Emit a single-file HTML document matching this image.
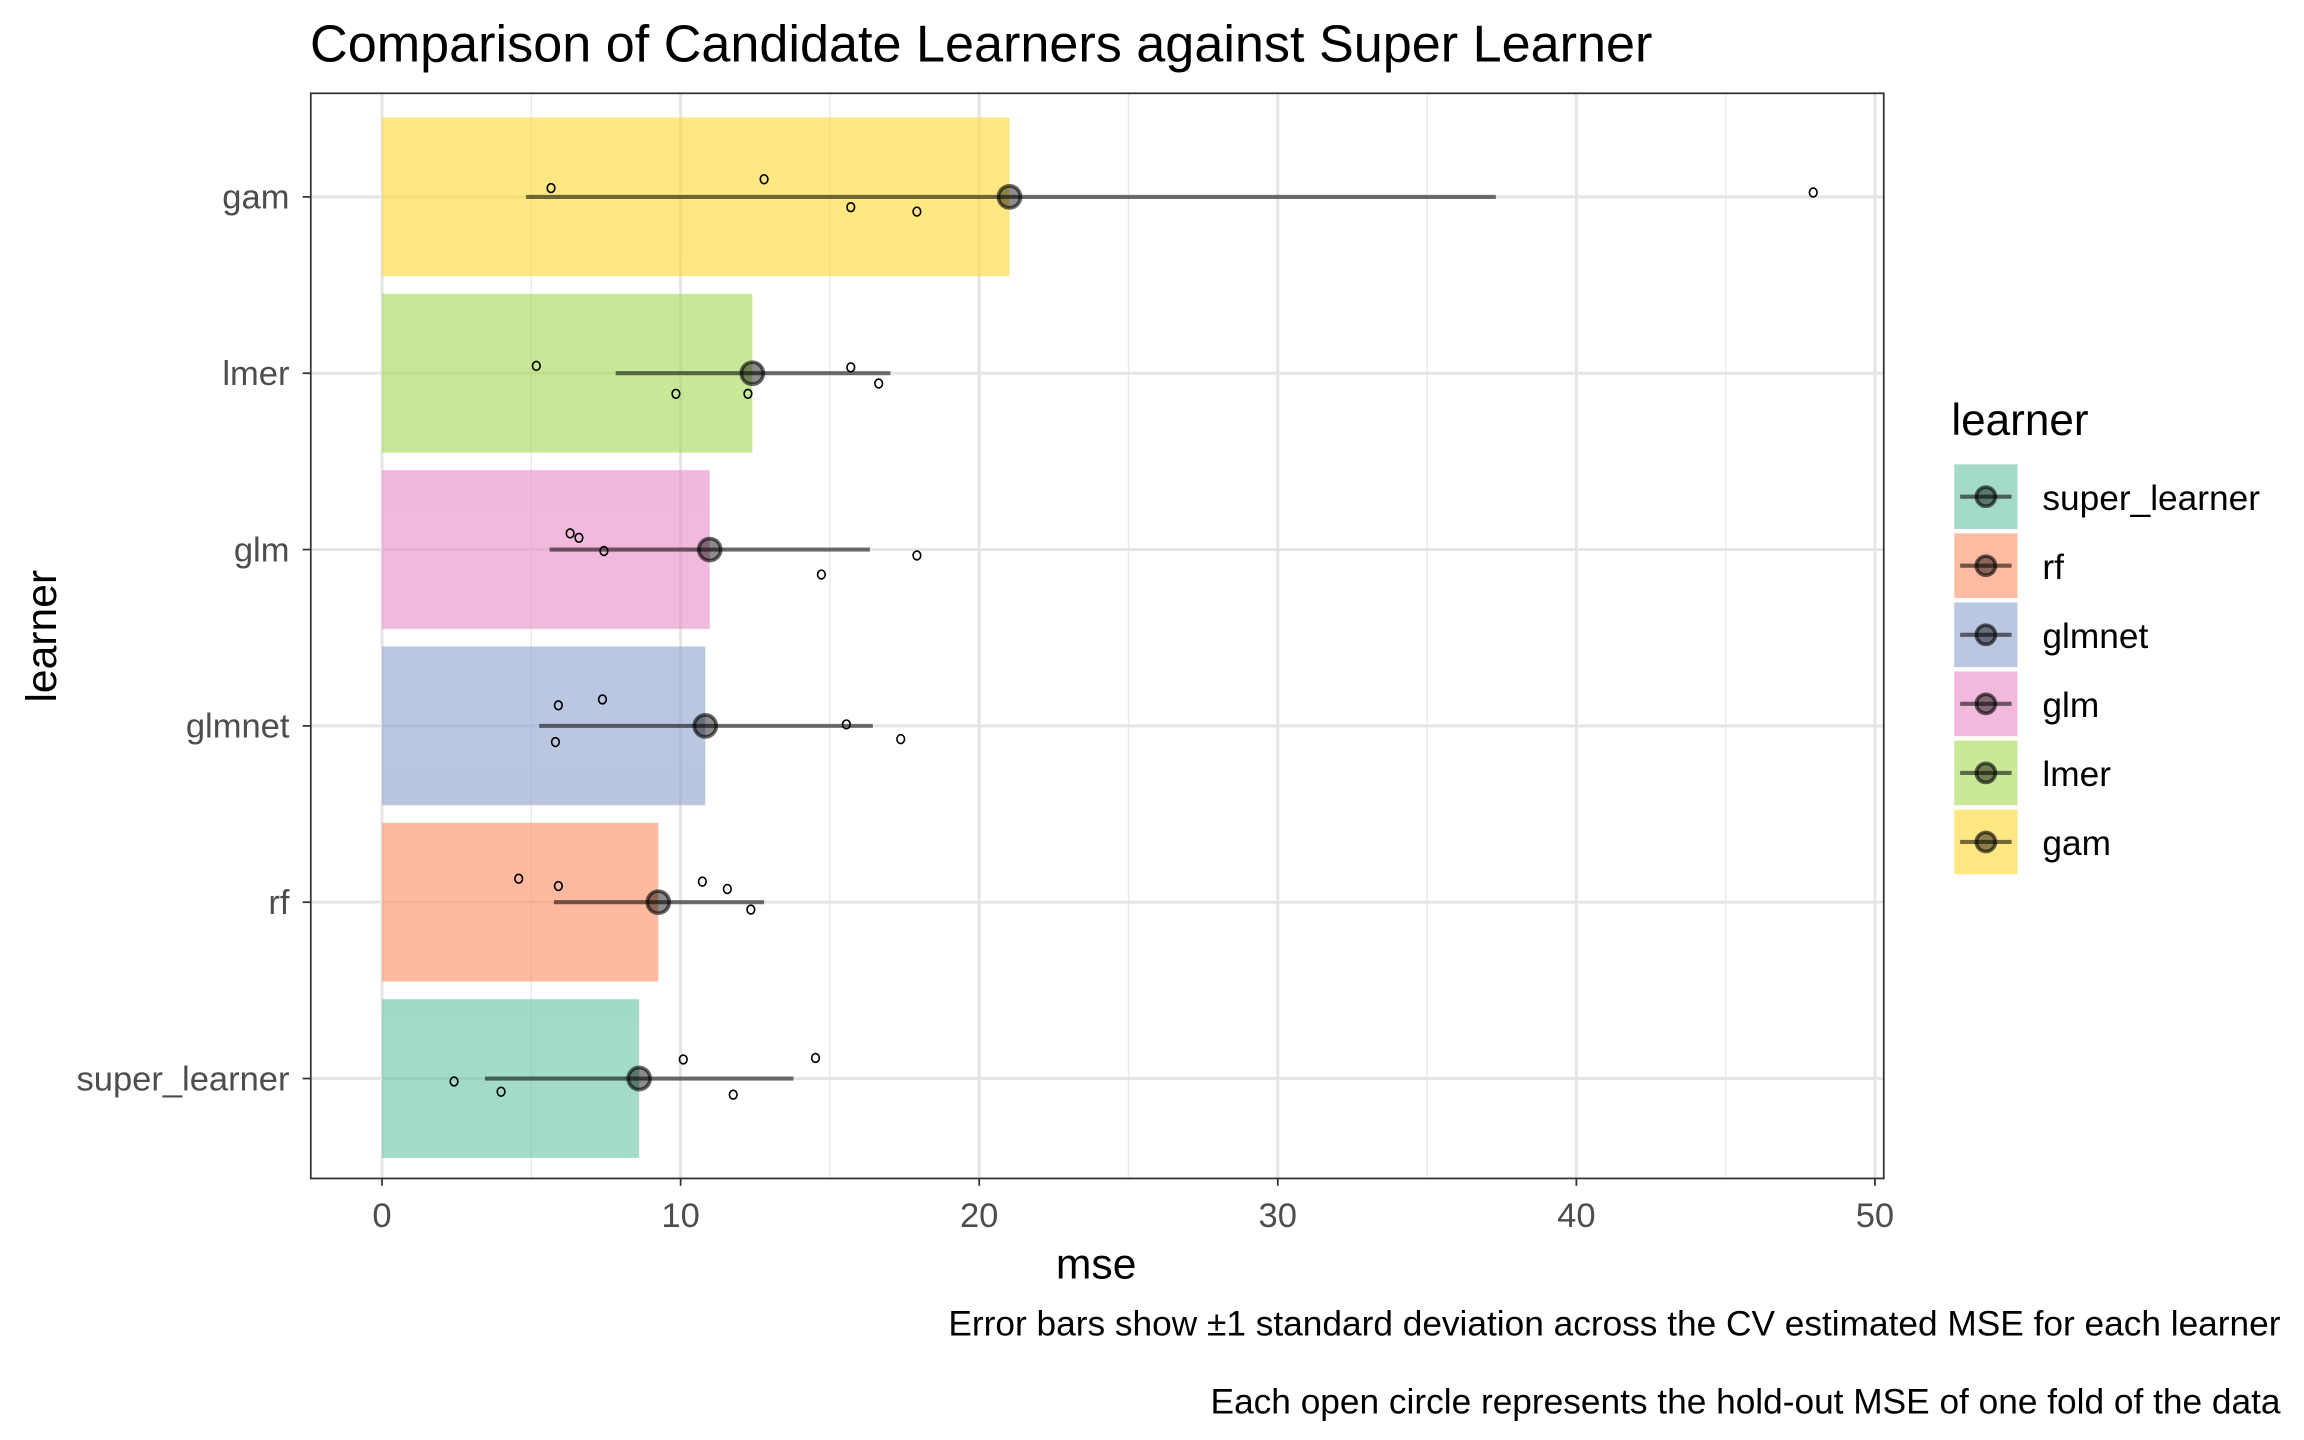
<!DOCTYPE html>
<html><head><style>html,body{margin:0;padding:0;background:#fff}svg{display:block}</style></head>
<body>
<svg width="2304" height="1440" viewBox="0 0 1568 980" xmlns="http://www.w3.org/2000/svg" font-family="Liberation Sans, sans-serif">
<rect width="1568" height="980" fill="#fff"/>
<text x="211" y="42" font-size="35.5" fill="#000">Comparison of Candidate Learners against Super Learner</text>
<g stroke="#ebebeb" stroke-width="1">
<line x1="361.6" y1="63" x2="361.6" y2="802"/><line x1="564.8" y1="63" x2="564.8" y2="802"/><line x1="768" y1="63" x2="768" y2="802"/><line x1="971.2" y1="63" x2="971.2" y2="802"/><line x1="1174.4" y1="63" x2="1174.4" y2="802"/>
</g>
<g stroke="#e5e5e5" stroke-width="2">
<line x1="260" y1="63" x2="260" y2="802"/><line x1="463.2" y1="63" x2="463.2" y2="802"/><line x1="666.4" y1="63" x2="666.4" y2="802"/><line x1="869.6" y1="63" x2="869.6" y2="802"/><line x1="1072.8" y1="63" x2="1072.8" y2="802"/><line x1="1276" y1="63" x2="1276" y2="802"/>
<line x1="211" y1="134" x2="1282" y2="134"/><line x1="211" y1="254" x2="1282" y2="254"/><line x1="211" y1="374" x2="1282" y2="374"/><line x1="211" y1="494" x2="1282" y2="494"/><line x1="211" y1="614" x2="1282" y2="614"/><line x1="211" y1="734" x2="1282" y2="734"/>
</g>
<g opacity="0.6">
<rect x="260" y="80" width="427" height="108" fill="#ffd92f"/>
<rect x="260" y="200" width="252" height="108" fill="#a6d854"/>
<rect x="260" y="320" width="223" height="108" fill="#e78ac3"/>
<rect x="260" y="440" width="220" height="108" fill="#8da0cb"/>
<rect x="260" y="560" width="188" height="108" fill="#fc8d62"/>
<rect x="260" y="680" width="175" height="108" fill="#66c2a5"/>
</g>
<g stroke="#000" stroke-opacity="0.55" stroke-width="2.8">
<line x1="358" y1="134" x2="1018" y2="134"/>
<line x1="419" y1="254" x2="606" y2="254"/>
<line x1="374" y1="374" x2="592" y2="374"/>
<line x1="367" y1="494" x2="594" y2="494"/>
<line x1="377" y1="614" x2="520" y2="614"/>
<line x1="330" y1="734" x2="540" y2="734"/>
</g>
<g fill="#000" fill-opacity="0.45" stroke="#000" stroke-opacity="0.6" stroke-width="2.5">
<circle cx="687" cy="134" r="7.5"/><circle cx="512" cy="254" r="7.5"/><circle cx="483" cy="374" r="7.5"/><circle cx="480" cy="494" r="7.5"/><circle cx="448" cy="614" r="7.5"/><circle cx="435" cy="734" r="7.5"/>
</g>
<g fill="none" stroke="#000" stroke-width="1.1">
<ellipse cx="375" cy="128" rx="2.6" ry="3"/><ellipse cx="520" cy="122" rx="2.6" ry="3"/><ellipse cx="579" cy="141" rx="2.6" ry="3"/><ellipse cx="624" cy="144" rx="2.6" ry="3"/><ellipse cx="1234" cy="131" rx="2.6" ry="3"/>
<ellipse cx="365" cy="249" rx="2.6" ry="3"/><ellipse cx="579" cy="250" rx="2.6" ry="3"/><ellipse cx="598" cy="261" rx="2.6" ry="3"/><ellipse cx="460" cy="268" rx="2.6" ry="3"/><ellipse cx="509" cy="268" rx="2.6" ry="3"/>
<ellipse cx="388" cy="363" rx="2.6" ry="3"/><ellipse cx="394" cy="366" rx="2.6" ry="3"/><ellipse cx="411" cy="375" rx="2.6" ry="3"/><ellipse cx="624" cy="378" rx="2.6" ry="3"/><ellipse cx="559" cy="391" rx="2.6" ry="3"/>
<ellipse cx="380" cy="480" rx="2.6" ry="3"/><ellipse cx="410" cy="476" rx="2.6" ry="3"/><ellipse cx="576" cy="493" rx="2.6" ry="3"/><ellipse cx="613" cy="503" rx="2.6" ry="3"/><ellipse cx="378" cy="505" rx="2.6" ry="3"/>
<ellipse cx="353" cy="598" rx="2.6" ry="3"/><ellipse cx="380" cy="603" rx="2.6" ry="3"/><ellipse cx="478" cy="600" rx="2.6" ry="3"/><ellipse cx="495" cy="605" rx="2.6" ry="3"/><ellipse cx="511" cy="619" rx="2.6" ry="3"/>
<ellipse cx="465" cy="721" rx="2.6" ry="3"/><ellipse cx="555" cy="720" rx="2.6" ry="3"/><ellipse cx="309" cy="736" rx="2.6" ry="3"/><ellipse cx="341" cy="743" rx="2.6" ry="3"/><ellipse cx="499" cy="745" rx="2.6" ry="3"/>
</g>
<rect x="211.5" y="63.5" width="1070.5" height="738.5" fill="none" stroke="#333" stroke-width="1.2"/>
<g stroke="#333" stroke-width="1.2">
<line x1="206" y1="134" x2="211" y2="134"/><line x1="206" y1="254" x2="211" y2="254"/><line x1="206" y1="374" x2="211" y2="374"/><line x1="206" y1="494" x2="211" y2="494"/><line x1="206" y1="614" x2="211" y2="614"/><line x1="206" y1="734" x2="211" y2="734"/>
<line x1="260" y1="802" x2="260" y2="807"/><line x1="463.2" y1="802" x2="463.2" y2="807"/><line x1="666.4" y1="802" x2="666.4" y2="807"/><line x1="869.6" y1="802" x2="869.6" y2="807"/><line x1="1072.8" y1="802" x2="1072.8" y2="807"/><line x1="1276" y1="802" x2="1276" y2="807"/>
</g>
<g font-size="23.5" fill="#4d4d4d" text-anchor="end">
<text x="197" y="142">gam</text><text x="197" y="262">lmer</text><text x="197" y="382">glm</text><text x="197" y="502">glmnet</text><text x="197" y="622">rf</text><text x="197" y="742">super_learner</text>
</g>
<g font-size="23.5" fill="#4d4d4d" text-anchor="middle">
<text x="260" y="835">0</text><text x="463.2" y="835">10</text><text x="666.4" y="835">20</text><text x="869.6" y="835">30</text><text x="1072.8" y="835">40</text><text x="1276" y="835">50</text>
</g>
<text x="746" y="870" font-size="29" text-anchor="middle">mse</text>
<text transform="translate(38,433) rotate(-90)" font-size="29" text-anchor="middle">learner</text>
<g font-size="24" text-anchor="end"><text x="1552" y="909">Error bars show ±1 standard deviation across the CV estimated MSE for each learner</text><text x="1552" y="962">Each open circle represents the hold-out MSE of one fold of the data</text></g>
<text x="1328" y="296" font-size="30">learner</text>
<g>
<rect x="1330" y="316" width="43" height="44" fill="#66c2a5" opacity="0.6"/>
<rect x="1330" y="363" width="43" height="44" fill="#fc8d62" opacity="0.6"/>
<rect x="1330" y="410" width="43" height="44" fill="#8da0cb" opacity="0.6"/>
<rect x="1330" y="457" width="43" height="44" fill="#e78ac3" opacity="0.6"/>
<rect x="1330" y="504" width="43" height="44" fill="#a6d854" opacity="0.6"/>
<rect x="1330" y="551" width="43" height="44" fill="#ffd92f" opacity="0.6"/>
</g>
<g stroke="#000" stroke-opacity="0.55" stroke-width="2.8">
<line x1="1334" y1="338" x2="1369" y2="338"/><line x1="1334" y1="385" x2="1369" y2="385"/><line x1="1334" y1="432" x2="1369" y2="432"/><line x1="1334" y1="479" x2="1369" y2="479"/><line x1="1334" y1="526" x2="1369" y2="526"/><line x1="1334" y1="573" x2="1369" y2="573"/>
</g>
<g fill="#000" fill-opacity="0.45" stroke="#000" stroke-opacity="0.6" stroke-width="2.5">
<circle cx="1351.5" cy="338" r="6.5"/><circle cx="1351.5" cy="385" r="6.5"/><circle cx="1351.5" cy="432" r="6.5"/><circle cx="1351.5" cy="479" r="6.5"/><circle cx="1351.5" cy="526" r="6.5"/><circle cx="1351.5" cy="573" r="6.5"/>
</g>
<g font-size="24">
<text x="1390" y="347">super_learner</text><text x="1390" y="394">rf</text><text x="1390" y="441">glmnet</text><text x="1390" y="488">glm</text><text x="1390" y="535">lmer</text><text x="1390" y="582">gam</text>
</g>
</svg>
</body></html>
